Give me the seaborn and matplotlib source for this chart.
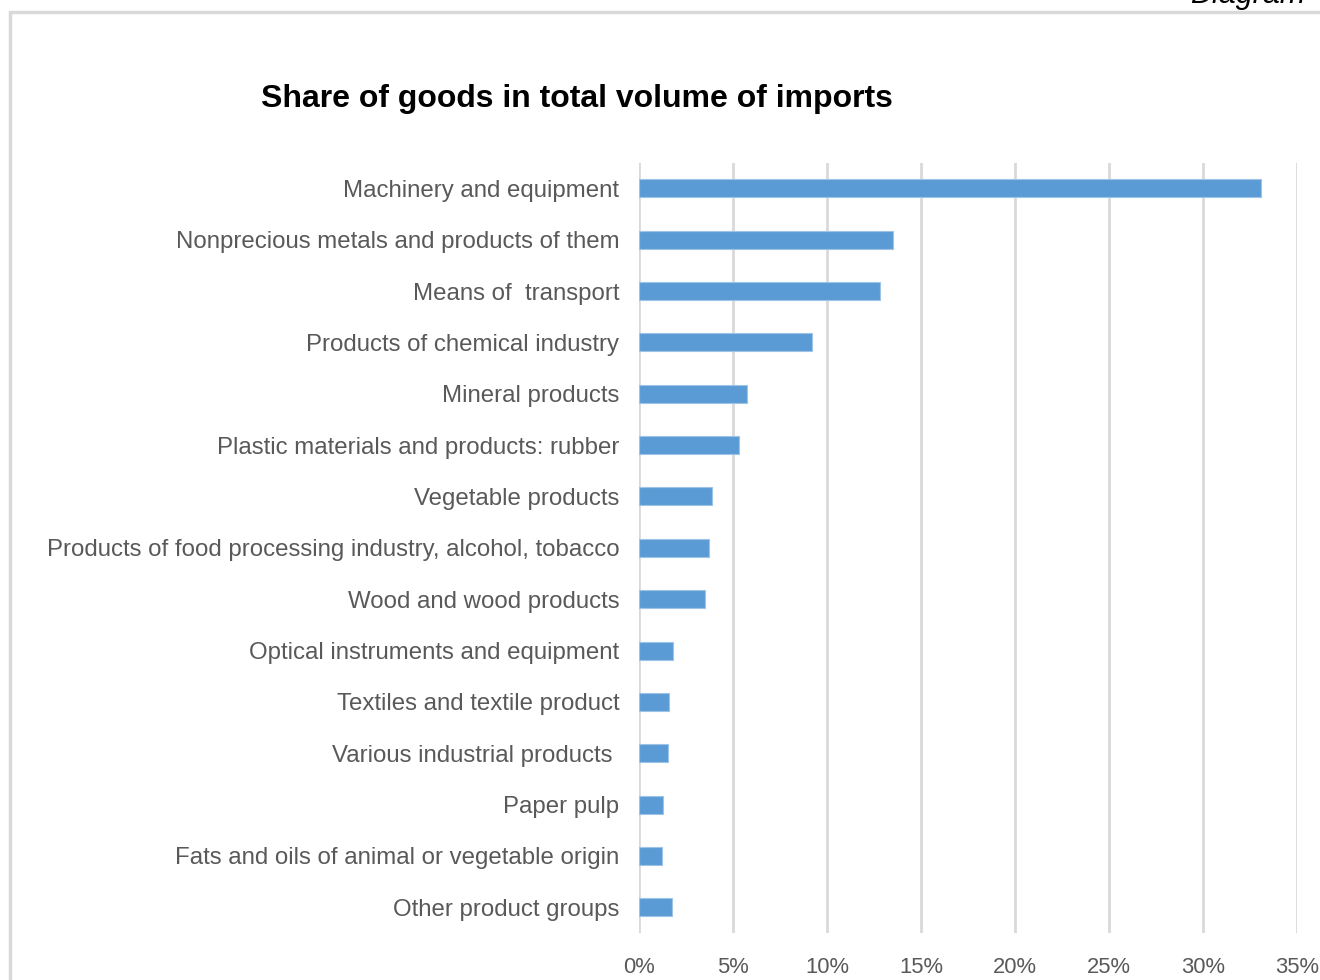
import matplotlib
matplotlib.use("Agg")
import matplotlib.pyplot as plt
from matplotlib.patches import Rectangle
from matplotlib.ticker import PercentFormatter, MultipleLocator
import seaborn as sns
import pandas as pd

# Import structure by product group, share of total import volume (%)
categories = [
    "Machinery and equipment",
    "Nonprecious metals and products of them",
    "Means of  transport",
    "Products of chemical industry",
    "Mineral products",
    "Plastic materials and products: rubber",
    "Vegetable products",
    "Products of food processing industry, alcohol, tobacco",
    "Wood and wood products",
    "Optical instruments and equipment",
    "Textiles and textile product",
    "Various industrial products ",
    "Paper pulp",
    "Fats and oils of animal or vegetable origin",
    "Other product groups",
]
shares = [33.1, 13.5, 12.8, 9.2, 5.75, 5.3, 3.9, 3.75, 3.5, 1.8, 1.6, 1.55, 1.3, 1.25, 1.75]

title = "Share of goods in total volume of imports"
corner_label = "Diagram"

df = pd.DataFrame({"category": categories, "share": shares})

sns.set_style("white")
plt.rcParams["font.family"] = ["Liberation Sans", "DejaVu Sans"]

fig = plt.figure(figsize=(13.2, 9.8), dpi=100)
ax = fig.add_axes([0.484, 0.048, 0.4985, 0.786])

sns.barplot(data=df, x="share", y="category", orient="h", color="#5B9BD5",
            saturation=1, width=0.35, edgecolor="#9DC3E6", linewidth=0.8, ax=ax)

ax.set_xlim(0, 35)
ax.xaxis.set_major_locator(MultipleLocator(5))
ax.xaxis.set_major_formatter(PercentFormatter(decimals=0))
ax.grid(axis="x", color="#D9D9D9", linewidth=2)
ax.set_axisbelow(True)
for s in ax.spines.values():
    s.set_visible(False)
ax.set_xlabel("")
ax.set_ylabel("")
ax.tick_params(axis="y", length=0, pad=14, labelsize=17.3, labelcolor="#595959")
ax.tick_params(axis="x", length=0, pad=17, labelsize=15.8, labelcolor="#595959")

fig.text(0.437, 0.899, title, ha="center", va="center",
         fontsize=23, fontweight="bold", color="black")
fig.text(0.989, 0.997, corner_label, ha="right", va="baseline",
         fontsize=22, fontstyle="italic", color="black")

# light frame around the chart area
fig.add_artist(Rectangle((10 / 1320, -0.2), 1.2, 1.2 - 12 / 980,
                         transform=fig.transFigure, fill=False,
                         edgecolor="#D9D9D9", linewidth=2.5))

fig.savefig("out.png", dpi=100, facecolor="white")
